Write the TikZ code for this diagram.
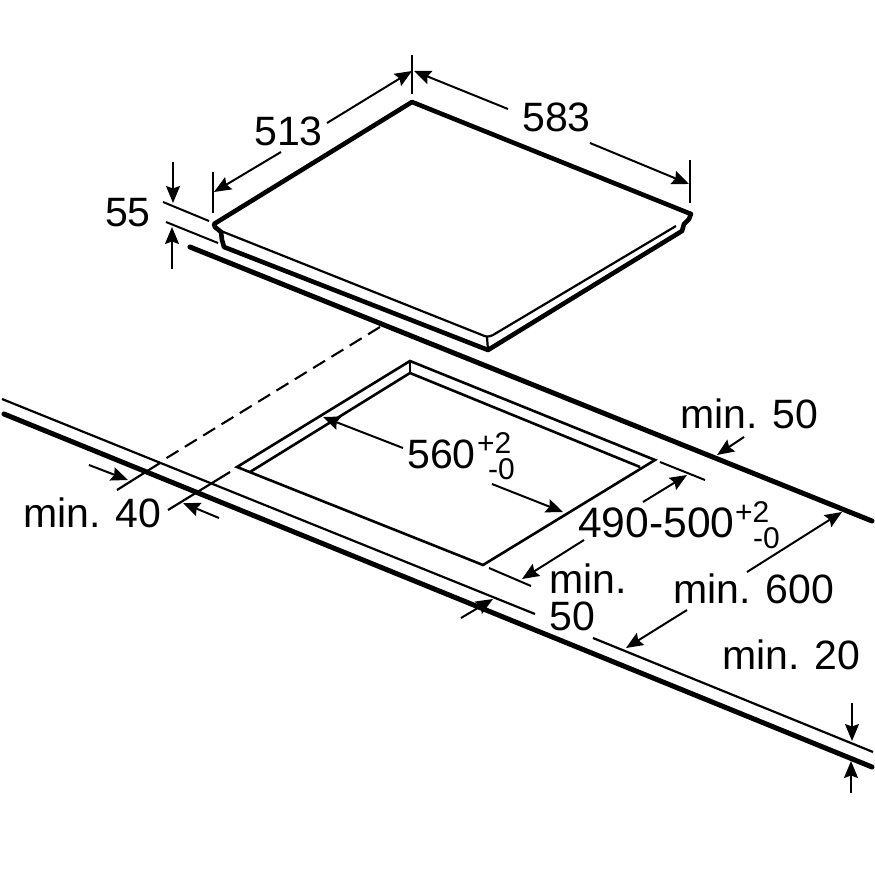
\documentclass[tikz,border=0pt]{standalone}
\usepackage{fontspec}
\setmainfont{Liberation Sans}
\usetikzlibrary{arrows.meta}
\newcommand{\bigsz}{\fontsize{41}{37}\selectfont}
\newcommand{\widesz}{\fontsize{42.6}{37}\selectfont}
\newcommand{\smallsz}{\fontsize{30}{30}\selectfont}
\tikzset{
  thick line/.style={line width=5pt,line cap=round,line join=round},
  hob line/.style={line width=4.6pt,line cap=round,line join=round},
  hob thin/.style={line width=2.2pt,line join=round},
  cut line/.style={line width=2.6pt,line join=miter},
  thin line/.style={line width=2.2pt},
  ext line/.style={line width=2pt},
  dimarrow/.style={line width=2pt,-{Stealth[length=17pt,width=14pt,inset=2.5pt]}},
  label big/.style={inner sep=0pt,anchor=base west,font=\bigsz},
  label small/.style={inner sep=0pt,anchor=base west,font=\smallsz},
}
\begin{document}
\begin{tikzpicture}[x=1pt,y=-1pt]
\path[use as bounding box,fill=white] (0,0) rectangle (875,875);

% hob corners
\coordinate (hL) at (214,224);
\coordinate (hB) at (412,102);
\coordinate (hR) at (691,214);
\coordinate (hFt) at (487,337);
\coordinate (hFb) at (488,350);
% hob outline
\draw[hob line] (224,247) -- (222,240) -- (221,232) -- (215,227) -- (hL) -- (hB) -- (hR) -- (689,219) -- (684,224) -- (682,231) -- (hFb) -- cycle;
\draw[hob thin] (221,231) -- (482,335) .. controls (486,337) and (489,337) .. (493,335) -- (676,226);
\draw[hob thin] (hFt) -- (hFb);

% worktop rear edge
\draw[thick line] (190,247) -- (872,521);
% worktop front edges
\draw[thin line] (2,399) -- (535,614);
\draw[thin line] (593,638) -- (873,752);
\draw[thick line] (4,414) -- (872,767);

% cut-out
\coordinate (cL) at (237,467);
\coordinate (cB) at (410,361);
\coordinate (cR) at (655,460);
\coordinate (cF) at (483,565);
\draw[cut line] (cL) -- (cB) -- (cR) -- (cF) -- cycle;
\draw[cut line] (250,472) -- (410,373) -- (640,467);
\draw[cut line] (cB) -- (410,373);

% worktop rear-left projection
\draw[line width=2.1pt,dash pattern=on 14pt off 7.5pt] (380,327) -- (165,459);
\draw[thin line] (160,463) -- (117,490);
\draw[thin line] (230,472) -- (168,510);

% extension lines
\draw[ext line] (412,55) -- (412,94);
\draw[ext line] (213,172) -- (213,213);
\draw[ext line] (690,160) -- (690,203);
\draw[ext line] (163,202) -- (209,221);
\draw[ext line] (166,222) -- (218,243);
\draw[ext line] (660,462) -- (705,480);
\draw[ext line] (489,568) -- (531,586);

% labels
\node[label big] (t513) at (254,145) {513};
\node[label big] (t583) at (522,131) {583};
\node[label big] (t55) at (105,226) {55};
\node[label big] (t560) at (407,468) {560};
\node[label small] (t560p) at (477,453) {+2};
\node[label small] (t560m) at (488,479) {-0};
\node[inner sep=0pt,anchor=base west,font=\widesz] (t490) at (578,537) {490-500};
\node[label small] (t490p) at (735,522) {+2};
\node[label small] (t490m) at (753,548) {-0};
\node[label big] (tm50a) at (680,428) {min. 50};
\node[label big] (tm600) at (673,603) {min. 600};
\node[label big] (tm20) at (722,669) {min. 20};
\node[label big] (tm40) at (23,527) {min. 40};
\node[inner sep=0pt,anchor=west,font=\bigsz,align=left] (tm50b) at (549,597) {min.\\50};

% dimension arrows
\coordinate (a513r) at (412,71);
\coordinate (a513l) at (214,192);
\draw[dimarrow] (327,123) -- (a513r);
\draw[dimarrow] (281,152) -- (a513l);
\draw[dimarrow] (508,109) -- (414,71);
\draw[dimarrow] (590,143) -- (689,184);
\draw[dimarrow] (173,162) -- (173,203);
\draw[dimarrow] (172,269) -- (172,227);
\draw[dimarrow] (403,448) -- (323,417);
\draw[dimarrow] (492,484) -- (563,512);
\draw[dimarrow] (643,502) -- (687,475);
\draw[dimarrow] (584,540) -- (522,579);
\draw[dimarrow] (461,618) -- (493,599);
\draw[dimarrow] (744,437) -- (717,455);
\draw[dimarrow] (747,572) -- (842,512);
\draw[dimarrow] (687,610) -- (626,648);
\draw[dimarrow] (852,703) -- (852,741);
\draw[dimarrow] (851,793) -- (851,761);
\draw[dimarrow] (89,465) -- (128,480);
\draw[dimarrow] (219,518) -- (183,503);
\end{tikzpicture}
\end{document}
